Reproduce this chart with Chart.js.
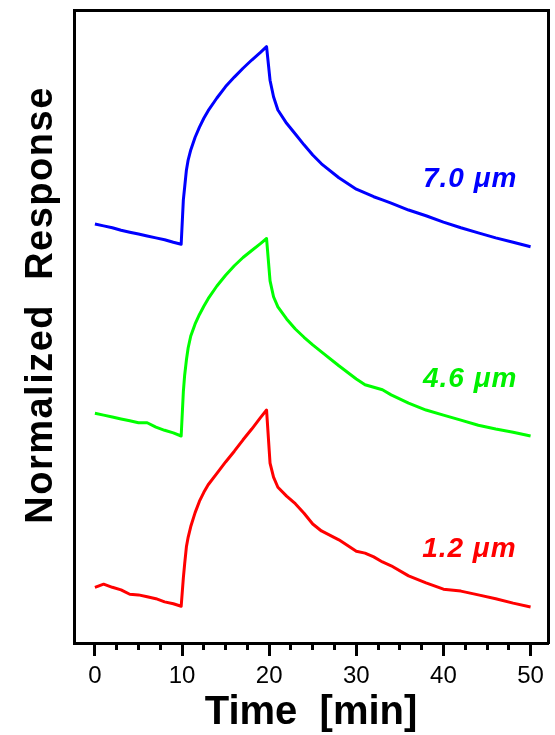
<!DOCTYPE html>
<html>
<head>
<meta charset="utf-8">
<script src="https://cdn.jsdelivr.net/npm/chart.js@4"></script>
<style>
    body { margin: 0; background: #fff; }
    canvas { display: block; }
</style>
</head>
<body>
<canvas id="response-chart" width="555" height="735"></canvas>
<script>
// time axis (minutes), shared by the three traces
const time = [0, 1, 2, 3, 4, 5, 6, 7, 8, 9, 9.9,
    10.15, 10.3, 10.5, 10.7, 11, 11.5, 12, 12.5,
    13, 14, 15, 16, 17, 18, 19, 19.7,
    20.1, 20.5, 21, 22, 23, 24, 25, 26,
    28, 30, 31, 32, 33, 34, 36, 38, 40, 42, 44, 46, 48, 50];

// normalized response, traces stacked with an offset
const resp70 = [0.662, 0.659, 0.656, 0.652, 0.649, 0.646, 0.643, 0.640, 0.637, 0.633, 0.630,
    0.700, 0.720, 0.747, 0.763, 0.779, 0.799, 0.815, 0.829,
    0.841, 0.861, 0.879, 0.894, 0.908, 0.921, 0.933, 0.942,
    0.889, 0.863, 0.842, 0.821, 0.804, 0.787, 0.771, 0.757,
    0.735, 0.717, 0.711, 0.705, 0.700, 0.695, 0.684, 0.675, 0.665, 0.656, 0.648, 0.640, 0.633, 0.626];
const resp46 = [0.363, 0.360, 0.357, 0.354, 0.351, 0.348, 0.348, 0.341, 0.336, 0.332, 0.327,
    0.397, 0.423, 0.447, 0.466, 0.485, 0.504, 0.519, 0.532,
    0.544, 0.564, 0.581, 0.596, 0.609, 0.620, 0.631, 0.639,
    0.572, 0.547, 0.531, 0.512, 0.496, 0.483, 0.471, 0.460,
    0.438, 0.417, 0.408, 0.404, 0.400, 0.392, 0.379, 0.368, 0.360, 0.352, 0.344, 0.338, 0.333, 0.327];
const resp12 = [0.088, 0.093, 0.088, 0.084, 0.077, 0.076, 0.073, 0.070, 0.065, 0.062, 0.058,
    0.103, 0.125, 0.152, 0.167, 0.184, 0.206, 0.224, 0.238,
    0.250, 0.268, 0.286, 0.303, 0.321, 0.338, 0.356, 0.368,
    0.284, 0.262, 0.246, 0.232, 0.220, 0.205, 0.188, 0.177,
    0.163, 0.145, 0.142, 0.136, 0.128, 0.122, 0.106, 0.095, 0.085, 0.082, 0.076, 0.070, 0.063, 0.057];

const majorTicks = [0, 10, 20, 30, 40, 50];
const minorTicks = [0, 2.5, 5, 7.5, 10, 12.5, 15, 17.5, 20, 22.5, 25, 27.5, 30, 32.5, 35, 37.5, 40, 42.5, 45, 47.5, 50];

// trace labels: text, colour, right edge (min), baseline (response)
const traceLabels = [
    { text: '7.0 \u03bcm', color: '#0000ff', x: 48.5, y: 0.720 },
    { text: '4.6 \u03bcm', color: '#00f000', x: 48.5, y: 0.404 },
    { text: '1.2 \u03bcm', color: '#ff0000', x: 48.4, y: 0.136 }
];

const labelPlugin = {
    id: 'labels',
    afterDatasetsDraw(chart) {
        const ctx = chart.ctx;
        const xs = chart.scales.x;
        const ys = chart.scales.y;
        ctx.save();
        ctx.font = 'italic bold 28px "Liberation Sans", Arial, sans-serif';
        ctx.letterSpacing = '1px';
        ctx.textAlign = 'right';
        ctx.textBaseline = 'alphabetic';
        traceLabels.forEach(l => {
            ctx.fillStyle = l.color;
            ctx.fillText(l.text, xs.getPixelForValue(l.x), ys.getPixelForValue(l.y));
        });
        ctx.restore();

        // y axis title
        ctx.save();
        ctx.translate(52, 305);
        ctx.rotate(-Math.PI / 2);
        ctx.font = 'bold 38px "Liberation Sans", Arial, sans-serif';
        ctx.letterSpacing = '1.5px';
        ctx.textAlign = 'center';
        ctx.textBaseline = 'alphabetic';
        ctx.fillStyle = '#000';
        ctx.fillText('Normalized  Response', 0, 0);
        ctx.restore();
    }
};

function series(values, color) {
    return {
        data: time.map((t, i) => ({ x: t, y: values[i] })),
        borderColor: color,
        borderWidth: 3,
        borderJoinStyle: 'round',
        pointRadius: 0,
        tension: 0
    };
}

const frameAxis = (position) => ({
    position: position,
    min: position === 'top' ? -2.4 : 0,
    max: position === 'top' ? 52 : 1,
    ticks: { display: false },
    grid: { display: false },
    border: { display: true, color: '#000', width: 3 },
    afterFit: s => { if (position === 'top') s.height = 0; else s.width = 0; }
});

new Chart(document.getElementById('response-chart'), {
    type: 'line',
    data: {
        datasets: [
            series(resp70, '#0000ff'),
            series(resp46, '#00ff00'),
            series(resp12, '#ff0000')
        ]
    },
    options: {
        responsive: false,
        animation: false,
        devicePixelRatio: 1,
        layout: { padding: { top: 10, right: 7, left: 0, bottom: 0 } },
        plugins: { legend: { display: false }, tooltip: { enabled: false } },
        scales: {
            x: {
                type: 'linear',
                position: 'bottom',
                min: -2.4,
                max: 52,
                afterBuildTicks: s => { s.ticks = majorTicks.map(v => ({ value: v })); },
                afterFit: s => { s.height = 92; },
                ticks: {
                    color: '#000',
                    padding: 6,
                    maxRotation: 0,
                    font: { family: '"Liberation Sans", Arial, sans-serif', size: 24 }
                },
                grid: { drawOnChartArea: false, tickLength: 13, tickWidth: 3, tickColor: '#000' },
                border: { display: true, color: '#000', width: 3 },
                title: {
                    display: true,
                    text: 'Time  [min]',
                    color: '#000',
                    padding: { top: 0, bottom: 2 },
                    font: { family: '"Liberation Sans", Arial, sans-serif', size: 40, weight: 'bold', lineHeight: 1 }
                }
            },
            xMinor: {
                type: 'linear',
                position: 'bottom',
                weight: -1,
                min: -2.4,
                max: 52,
                afterBuildTicks: s => { s.ticks = minorTicks.map(v => ({ value: v })); },
                afterFit: s => { s.height = 0; },
                ticks: { display: false },
                grid: { drawOnChartArea: false, tickLength: 7, tickWidth: 3, tickColor: '#000' },
                border: { display: false }
            },
            y: {
                type: 'linear',
                position: 'left',
                min: 0,
                max: 1,
                afterFit: s => { s.width = 74; },
                ticks: { display: false },
                grid: { display: false },
                border: { display: true, color: '#000', width: 3 }
            },
            xTop: frameAxis('top'),
            yRight: frameAxis('right')
        }
    },
    plugins: [labelPlugin]
});
</script>
</body>
</html>
